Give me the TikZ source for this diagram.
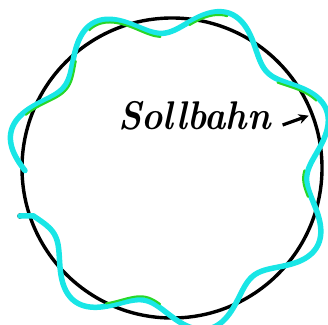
\documentclass[tikz,border=0pt]{standalone}
\usetikzlibrary{arrows.meta}
\definecolor{orbitcyan}{RGB}{25,230,230}
\definecolor{orbitgreen}{RGB}{40,215,40}

\begin{document}
\begin{tikzpicture}[x=1pt,y=-1pt,
  declare function={orbitr(\t)=150-15*sin(7.365*(\t-197.3));},
  orbit/.style={draw=orbitcyan,line width=5.5pt,line cap=round,line join=round},
  trace/.style={draw=orbitgreen,line width=2pt,line cap=round}]
  \useasboundingbox (0,0) rectangle (328,324);
  \node[circle,draw=black,line width=3.4pt,minimum size=300pt,inner sep=0pt] (ring) at (172,168) {};
  \node[circle,fill=black,inner sep=0pt,minimum size=5.5pt] (start) at (20,216) {};
  \draw[orbit] (start.center) -- plot[domain=199:541,samples=400] ({172+orbitr(\x)*cos(\x)},{168-orbitr(\x)*sin(\x)});
  \foreach \a/\b in {244/265,348/359,385/399,430/443,455/481,492/520} {
    \draw[trace] plot[domain=\a:\b,samples=40] ({172+(orbitr(\x)-3.5)*cos(\x)},{168-(orbitr(\x)-3.5)*sin(\x)});
  }
  \node[anchor=base west,inner sep=0pt,font=\fontsize{40}{40}\selectfont\bfseries\itshape] (label) at (118,129) {\scalebox{0.9}[1]{Sollbahn}};
  \draw[line width=3.2pt,-{Stealth[length=10pt,width=10pt]}] ([xshift=12pt,yshift=4pt]label.base east) -- ([shift={(-5,2)}]ring.21);
\end{tikzpicture}
\end{document}
